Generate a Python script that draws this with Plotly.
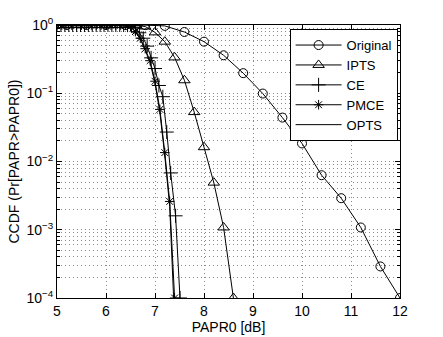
"""
CCDF de PAPR: Original, IPTS, CE, PMCE, OPTS.
"""

import plotly.graph_objects as go

# --- datos ---
orig_x = [5.2, 5.6, 6.0, 6.4, 6.8, 7.2, 7.6, 8.0, 8.4, 8.8, 9.2, 9.6, 10.0,
          10.4, 10.8, 11.2, 11.6, 12.0]
orig_y = [1.0, 1.0, 1.0, 1.0, 0.995, 0.97, 0.79, 0.57, 0.36, 0.197, 0.099,
          0.044, 0.0184, 0.0063, 0.0029, 0.00108, 0.00029, 0.0001]

ipts_x = [5.0, 5.2, 5.4, 5.6, 5.8, 6.0, 6.2, 6.4, 6.6, 6.8, 7.0, 7.2, 7.4,
          7.6, 7.8, 8.0, 8.2, 8.4, 8.6]
ipts_y = [1.0, 1.0, 1.0, 1.0, 1.0, 1.0, 1.0, 1.0, 0.995, 0.95, 0.78, 0.57,
          0.335, 0.155, 0.053, 0.0162, 0.0049, 0.00108, 0.0001]

ce_x = [5.0, 5.08, 5.16, 5.24, 5.32, 5.4, 5.48, 5.56, 5.64, 5.72, 5.8, 5.88,
        5.96, 6.04, 6.12, 6.2, 6.28, 6.36, 6.44, 6.52, 6.6, 6.68, 6.76, 6.84,
        6.92, 7.0, 7.08, 7.16, 7.24, 7.32, 7.42, 7.51]
ce_y = [1.0, 1.0, 1.0, 1.0, 1.0, 1.0, 1.0, 1.0, 1.0, 1.0, 1.0, 1.0,
        1.0, 1.0, 1.0, 1.0, 1.0, 1.0, 0.995, 0.97, 0.9, 0.77, 0.64, 0.49,
        0.33, 0.23, 0.13, 0.089, 0.027, 0.0068, 0.0016, 0.0001]

pmce_x = [5.0, 5.1, 5.2, 5.3, 5.4, 5.5, 5.6, 5.7, 5.8, 5.9, 6.0, 6.1, 6.2,
          6.3, 6.4, 6.5, 6.6, 6.7, 6.8, 6.9, 7.0, 7.1, 7.2, 7.3, 7.4]
pmce_y = [1.0, 1.0, 1.0, 1.0, 1.0, 1.0, 1.0, 1.0, 1.0, 1.0, 1.0, 1.0, 1.0,
          1.0, 0.99, 0.95, 0.8, 0.64, 0.45, 0.3, 0.15, 0.058, 0.0135,
          0.0026, 0.0001]

opts_x = [5.0, 5.5, 6.0, 6.3, 6.4, 6.5, 6.6, 6.7, 6.8, 6.9, 7.0, 7.1, 7.2,
          7.3, 7.38]
opts_y = [1.0, 1.0, 1.0, 1.0, 0.99, 0.94, 0.79, 0.62, 0.43, 0.28, 0.14,
          0.052, 0.012, 0.0022, 0.0001]

y_ticks = [1e-4, 1e-3, 1e-2, 1e-1, 1]
y_ticktext = ["10<sup>\u22124</sup>", "10<sup>\u22123</sup>",
              "10<sup>\u22122</sup>", "10<sup>\u22121</sup>", "10<sup>0</sup>"]
y_minor = [m * 10 ** e for e in range(-4, 0) for m in range(2, 10)]
x_ticks = [5, 6, 7, 8, 9, 10, 11, 12]

FONT = "Liberation Sans, Arial, Helvetica, sans-serif"
GRID = "#8a8a8a"
DOTS = "1px,3px"

series = [
    ("Original", orig_x, orig_y, "circle-open", 9),
    ("IPTS", ipts_x, ipts_y, "triangle-up-open", 10),
    ("CE", ce_x, ce_y, "cross-thin-open", 10),
    ("PMCE", pmce_x, pmce_y, "asterisk-open", 8),
    ("OPTS", opts_x, opts_y, None, 0),
]

fig = go.Figure()

for name, xs, ys, symbol, size in series:
    if symbol:
        fig.add_trace(go.Scatter(
            x=xs, y=ys, name=name,
            mode="lines+markers",
            line=dict(color="black", width=1),
            marker=dict(symbol=symbol, size=size, color="black",
                        line=dict(color="black", width=1)),
        ))
    else:
        fig.add_trace(go.Scatter(
            x=xs, y=ys, name=name,
            mode="lines",
            line=dict(color="black", width=1),
        ))

fig.update_xaxes(
    range=[5, 12],
    tickvals=x_ticks,
    ticks="inside", ticklen=5, tickcolor="black",
    showline=True, linecolor="black", linewidth=1, mirror="ticks",
    showgrid=True, gridcolor=GRID, griddash=DOTS, gridwidth=1,
    zeroline=False,
    tickfont=dict(size=14, color="black", family=FONT),
    title=dict(text="PAPR0 [dB]", font=dict(size=14, color="black", family=FONT),
               standoff=2),
)

fig.update_yaxes(
    type="log",
    range=[-4, 0],
    tickvals=y_ticks, ticktext=y_ticktext,
    ticks="inside", ticklen=5, tickcolor="black",
    showline=True, linecolor="black", linewidth=1, mirror="ticks",
    showgrid=True, gridcolor=GRID, griddash=DOTS, gridwidth=1,
    minor=dict(tickmode="array", tickvals=y_minor, ticks="inside", ticklen=3,
               tickcolor="black", showgrid=True, gridcolor=GRID,
               griddash=DOTS, gridwidth=1),
    zeroline=False,
    tickfont=dict(size=14, color="black", family=FONT),
    title=dict(text="CCDF (Pr[PAPR>PAPR0])",
               font=dict(size=14, color="black", family=FONT), standoff=3),
)

fig.update_layout(
    width=443, height=337,
    margin=dict(l=57, r=43, t=25, b=39, autoexpand=False),
    paper_bgcolor="white", plot_bgcolor="white",
    font=dict(family=FONT, color="black", size=14),
    showlegend=True,
    legend=dict(
        x=0.993, y=0.985, xanchor="right", yanchor="top",
        bgcolor="white", bordercolor="black", borderwidth=1,
        font=dict(size=13, color="black", family=FONT),
        itemwidth=46, tracegroupgap=0,
    ),
)

fig.write_html("out.html", config={"displayModeBar": False},
               post_script="document.body.style.margin='0px';")
